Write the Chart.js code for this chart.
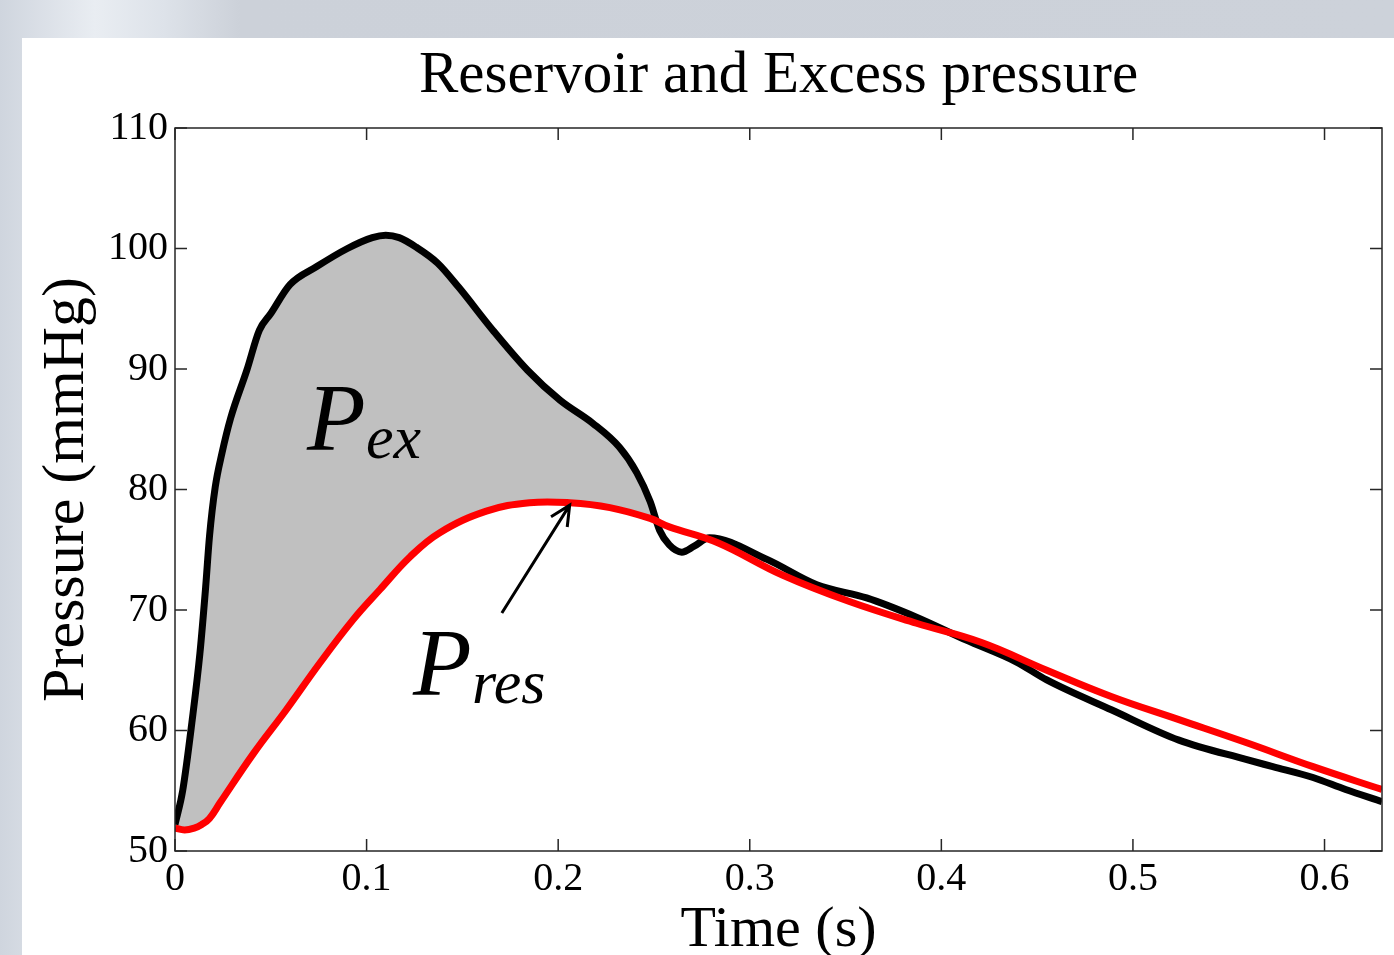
<!DOCTYPE html>
<html>
<head>
<meta charset="utf-8">
<title>Reservoir and Excess pressure</title>
<script src="https://cdn.jsdelivr.net/npm/chart.js@4.4.1/dist/chart.umd.min.js"></script>
<style>
    html, body { margin: 0; padding: 0; }
    body {
        width: 1394px;
        height: 955px;
        overflow: hidden;
        position: relative;
        background: linear-gradient(90deg, #cfd5de 0px, #e9edf2 95px, #dde2e9 165px, #ccd1d9 240px, #cdd2da 100%);
    }
    #panel {
        position: absolute;
        left: 22px;
        top: 38px;
        width: 1372px;
        height: 917px;
        background: #ffffff;
    }
</style>
</head>
<body>
<div id="panel"><canvas id="pressure_canvas"></canvas></div>
<script>
// measured pressure (black) - time in s, pressure in mmHg
const totalTime = [0, 0.004, 0.009, 0.013, 0.016, 0.018, 0.021, 0.0245, 0.029, 0.0375, 0.044, 0.050, 0.060,
    0.074, 0.090, 0.103, 0.110, 0.117, 0.126, 0.137, 0.148, 0.166, 0.184, 0.201, 0.218, 0.232, 0.241, 0.248, 0.253,
    0.258, 0.2645, 0.271, 0.279, 0.309, 0.335, 0.361, 0.387, 0.413, 0.439, 0.455, 0.489, 0.524, 0.559,
    0.573, 0.594, 0.611, 0.630];
const totalPressure = [52.2, 55.0, 60.9, 66.4, 71.9, 76.1, 80.2, 83.0, 85.9, 89.9, 93.2, 94.6, 97.0,
    98.5, 100.0, 100.9, 101.1, 100.9, 100.1, 98.8, 96.8, 93.2, 89.9, 87.4, 85.5, 83.5, 81.4, 79.0, 76.6,
    75.4, 74.8, 75.3, 76.0, 74.2, 72.1, 71.0, 69.4, 67.5, 65.7, 64.2, 61.7, 59.2, 57.6,
    57.0, 56.1, 55.1, 54.1];

// reservoir pressure (red)
const reservoirTime = [0, 0.005, 0.010, 0.014, 0.018, 0.0235, 0.041, 0.058, 0.0756, 0.093, 0.107, 0.1226,
    0.138, 0.1625, 0.185, 0.206, 0.227, 0.248, 0.258, 0.283, 0.317, 0.352, 0.387, 0.421, 0.455, 0.489,
    0.524, 0.559, 0.594, 0.630];
const reservoirPressure = [51.9, 51.75, 51.9, 52.2, 52.7, 54.0, 58.1, 61.7, 65.6, 69.2, 71.7, 74.4,
    76.4, 78.2, 78.9, 78.9, 78.5, 77.6, 76.9, 75.6, 72.9, 70.7, 68.9, 67.3, 65.0, 62.8,
    60.9, 59.0, 57.0, 55.1];

// excess pressure area ends where both curves meet
const excessEnd = 0.253;

const timeTicks = [0, 0.1, 0.2, 0.3, 0.4, 0.5, 0.6];
const pressureTicks = [50, 60, 70, 80, 90, 100, 110];

// text labels inside the plot, anchored in data units (time, pressure)
const curveLabels = [
    { main: 'P', sub: 'ex', t: 0.0689, p: 83.3 },
    { main: 'P', sub: 'res', t: 0.1242, p: 62.95 }
];
const arrowFrom = { t: 0.1706, p: 69.75 };
const arrowTo = { t: 0.206, p: 78.7 };

const serif = '"Liberation Serif", "Times New Roman", serif';
const toPoints = (xs, ys) => xs.map((x, i) => ({ x: x, y: ys[i] }));

const totalPoints = toPoints(totalTime, totalPressure);
const reservoirPoints = toPoints(reservoirTime, reservoirPressure);
const excessPoints = totalPoints.filter(pt => pt.x <= excessEnd);

// box round the axes with inward ticks (matlab look)
const axesBox = {
    id: 'axesBox',
    afterDatasetsDraw(chart) {
        const { ctx, chartArea: a, scales: { x, y } } = chart;
        const len = 12;
        ctx.save();
        ctx.strokeStyle = '#262626';
        ctx.lineWidth = 1.5;
        ctx.strokeRect(a.left, a.top, a.right - a.left, a.bottom - a.top);
        ctx.beginPath();
        x.ticks.forEach(t => {
            const px = x.getPixelForValue(t.value);
            ctx.moveTo(px, a.bottom); ctx.lineTo(px, a.bottom - len);
            ctx.moveTo(px, a.top); ctx.lineTo(px, a.top + len);
        });
        y.ticks.forEach(t => {
            const py = y.getPixelForValue(t.value);
            ctx.moveTo(a.left, py); ctx.lineTo(a.left + len, py);
            ctx.moveTo(a.right, py); ctx.lineTo(a.right - len, py);
        });
        ctx.stroke();
        ctx.restore();
    }
};

const annotations = {
    id: 'annotations',
    afterDraw(chart) {
        const { ctx, chartArea: a, scales: { x, y } } = chart;
        ctx.save();
        // title, centred over the axes
        ctx.fillStyle = '#000';
        ctx.font = '59px ' + serif;
        ctx.textAlign = 'center';
        ctx.textBaseline = 'middle';
        ctx.fillText('Reservoir and Excess pressure', (a.left + a.right) / 2, 38);

        // P_ex and P_res
        ctx.textAlign = 'left';
        ctx.textBaseline = 'alphabetic';
        curveLabels.forEach(l => {
            const px = x.getPixelForValue(l.t);
            const py = y.getPixelForValue(l.p);
            ctx.font = 'italic 96px ' + serif;
            ctx.fillText(l.main, px, py);
            ctx.font = 'italic 62px ' + serif;
            ctx.fillText(l.sub, px + 59, py + 8);
        });

        // arrow pointing at the reservoir curve
        const x0 = x.getPixelForValue(arrowFrom.t), y0 = y.getPixelForValue(arrowFrom.p);
        const x1 = x.getPixelForValue(arrowTo.t), y1 = y.getPixelForValue(arrowTo.p);
        const ang = Math.atan2(y1 - y0, x1 - x0);
        const head = 22, spread = 0.45;
        ctx.strokeStyle = '#000';
        ctx.lineWidth = 3;
        ctx.beginPath();
        ctx.moveTo(x0, y0);
        ctx.lineTo(x1, y1);
        ctx.moveTo(x1 - head * Math.cos(ang - spread), y1 - head * Math.sin(ang - spread));
        ctx.lineTo(x1, y1);
        ctx.lineTo(x1 - head * Math.cos(ang + spread), y1 - head * Math.sin(ang + spread));
        ctx.stroke();
        ctx.restore();
    }
};

const ctx = document.getElementById('pressure_canvas');

const pressureChart = new Chart(ctx, {
    type: 'line',
    data: {
        datasets: [
            {
                label: 'P',
                data: totalPoints,
                borderColor: '#000000',
                borderWidth: 7,
                pointRadius: 0,
                fill: false,
                cubicInterpolationMode: 'monotone',
                borderJoinStyle: 'round',
                clip: 0,
                order: 1
            },
            {
                label: 'Pres',
                data: reservoirPoints,
                borderColor: '#ff0000',
                borderWidth: 7,
                pointRadius: 0,
                fill: false,
                tension: 0.4,
                borderJoinStyle: 'round',
                clip: 0,
                order: 0
            },
            {
                label: 'Pex',
                data: excessPoints,
                borderWidth: 0,
                borderColor: 'rgba(0,0,0,0)',
                pointRadius: 0,
                cubicInterpolationMode: 'monotone',
                fill: { target: 1, above: '#c0c0c0', below: 'rgba(0,0,0,0)' },
                order: 2
            }
        ]
    },
    options: {
        responsive: true,
        maintainAspectRatio: false,
        animation: false,
        layout: {
            padding: { top: 90, right: 12, left: 0, bottom: 0 }
        },
        plugins: {
            legend: { display: false },
            tooltip: { enabled: false },
            title: { display: false }
        },
        scales: {
            x: {
                type: 'linear',
                min: 0,
                max: 0.63,
                afterBuildTicks: scale => { scale.ticks = timeTicks.map(v => ({ value: v })); },
                afterFit: scale => { scale.height = 104; },
                grid: { display: false, drawTicks: false },
                border: { display: false },
                ticks: {
                    padding: 4,
                    color: '#000',
                    font: { family: serif, size: 40 },
                    callback: v => String(+v.toFixed(1))
                },
                title: {
                    display: true,
                    text: 'Time (s)',
                    color: '#000',
                    font: { family: serif, size: 58, lineHeight: 0.85 },
                    padding: { top: 0, bottom: 0 }
                }
            },
            y: {
                type: 'linear',
                min: 50,
                max: 110,
                afterBuildTicks: scale => { scale.ticks = pressureTicks.map(v => ({ value: v })); },
                afterFit: scale => { scale.width = 153; },
                grid: { display: false, drawTicks: false },
                border: { display: false },
                ticks: {
                    padding: 7,
                    color: '#000',
                    font: { family: serif, size: 40 }
                },
                title: {
                    display: true,
                    text: 'Pressure (mmHg)',
                    color: '#000',
                    font: { family: serif, size: 60, lineHeight: 1 },
                    padding: { top: 15, bottom: 0 }
                }
            }
        }
    },
    plugins: [axesBox, annotations]
});
</script>
</body>
</html>
